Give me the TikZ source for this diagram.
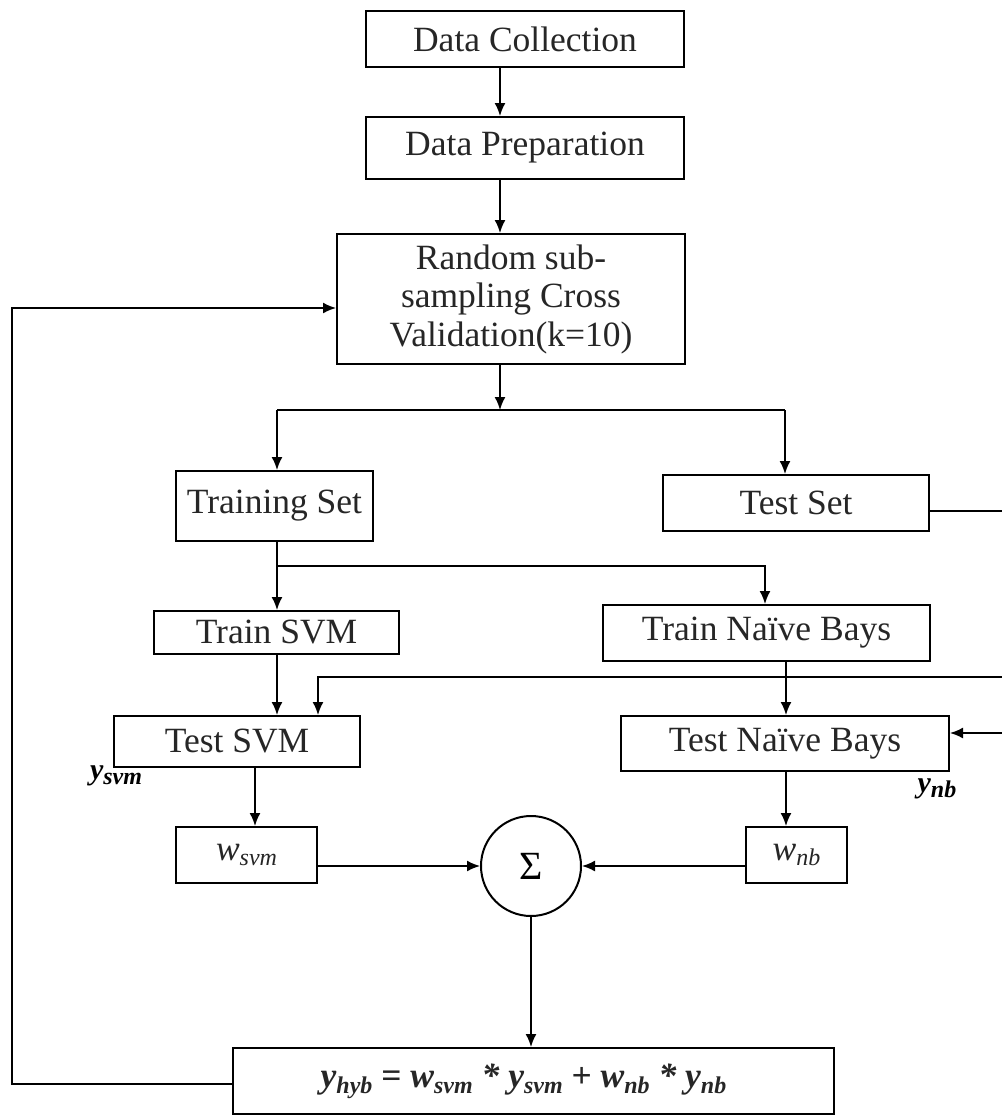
\documentclass[tikz,border=0pt]{standalone}
\usepackage{fontspec}
\setmainfont{Liberation Serif}
\usetikzlibrary{arrows.meta,calc}
\newcommand{\subx}[1]{\raisebox{-0.35ex}{\fontsize{24}{24}\selectfont #1}}
\begin{document}
\begin{tikzpicture}[x=1pt,y=-1pt,
  box/.style={draw, line width=2pt, inner sep=0pt, anchor=north west, align=center,
    font=\fontsize{35.5}{38.5}\selectfont, text=black!85},
  conn/.style={line width=1.7pt},
  arr/.style={conn, -{Latex[length=13pt,width=11pt]}}]
\useasboundingbox (0,0) rectangle (1002,1120);

\node[box, minimum width=318pt, minimum height=56pt] (dc) at (365,10) {Data Collection};
\node[box, minimum width=318pt, minimum height=62pt] (dp) at (365,116) {Data Preparation};
\node[box, minimum width=348pt, minimum height=130pt] (rs) at (336,233) {Random sub-\\sampling Cross\\Validation(k=10)};
\node[box, minimum width=197pt, minimum height=70pt] (train) at (175,470) {Training Set};
\node[box, minimum width=266pt, minimum height=56pt] (testset) at (662,474) {Test Set};
\node[box, minimum width=245pt, minimum height=43pt] (trsvm) at (153,610) {Train SVM};
\node[box, minimum width=327pt, minimum height=56pt] (trnb) at (602,604) {Train Naïve Bays};
\node[box, minimum width=246pt, minimum height=51pt] (tesvm) at (113,715) {Test SVM};
\node[box, minimum width=328pt, minimum height=55pt] (tenb) at (620,715) {Test Naïve Bays};
\node[box, minimum width=141pt, minimum height=56pt] (wsvm) at (175,826) {\itshape w\subx{svm}};
\node[box, minimum width=101pt, minimum height=56pt] (wnb) at (745,826) {\itshape w\subx{nb}};
\node[draw, circle, line width=2pt, minimum size=100pt, inner sep=0pt,
  font=\fontsize{40}{40}\selectfont] (sum) at (531,866) {Σ};
\node[box, minimum width=601pt, minimum height=66pt] (formula) at (232,1047)
  {\bfseries\itshape y\subx{hyb} {\upshape =} w\subx{svm} * y\subx{svm} {\upshape +} w\subx{nb} * y\subx{nb}\hspace*{20pt}};

\node[font=\fontsize{30}{30}\selectfont\bfseries\itshape] (ysvm) at (116,776) {y\subx{svm}};
\node[font=\fontsize{30}{30}\selectfont\bfseries\itshape] (ynb) at (937,789) {y\subx{nb}};

\coordinate (split) at (500,410);
\coordinate (lsplit) at (277,410);
\coordinate (rsplit) at (785,410);
\coordinate (tb) at (277,566);
\coordinate (tbr) at (765,566);
\coordinate (re1) at (1002,511);
\coordinate (re2) at (1002,677);
\coordinate (re3) at (1002,733);
\coordinate (c318) at (318,677);
\coordinate (nbx) at (786,0);
\coordinate (svx) at (255,0);
\coordinate (l1) at (12,1084);
\coordinate (l2) at (12,308);

\draw[arr] (dc.south -| split) -- (dp.north -| split);
\draw[arr] (dp.south -| split) -- (rs.north -| split);
\draw[arr] (rs.south -| split) -- (split);
\draw[conn] (lsplit) -- (rsplit);
\draw[arr] (lsplit) -- (train.north -| lsplit);
\draw[arr] (rsplit) -- (testset.north -| rsplit);
\draw[arr] (train.south -| lsplit) -- (trsvm.north -| lsplit);
\draw[arr] (tb) -- (tbr) -- (trnb.north -| tbr);
\draw[arr] (trsvm.south -| lsplit) -- (tesvm.north -| lsplit);
\draw[arr] (re2) -- (c318) -- (tesvm.north -| c318);
\draw[arr] (trnb.south -| nbx) -- (tenb.north -| nbx);
\draw[conn] (testset.east |- re1) -- (re1);
\draw[arr] (re3) -- (tenb.east |- re3);
\draw[arr] (tesvm.south -| svx) -- (wsvm.north -| svx);
\draw[arr] (tenb.south -| nbx) -- (wnb.north -| nbx);
\draw[arr] (wsvm.east |- sum.west) -- (sum.west);
\draw[arr] (wnb.west |- sum.east) -- (sum.east);
\draw[arr] (sum.south) -- (formula.north -| sum.south);
\draw[arr] (formula.west |- l1) -- (l1) -- (l2) -- (rs.west |- l2);
\end{tikzpicture}
\end{document}
